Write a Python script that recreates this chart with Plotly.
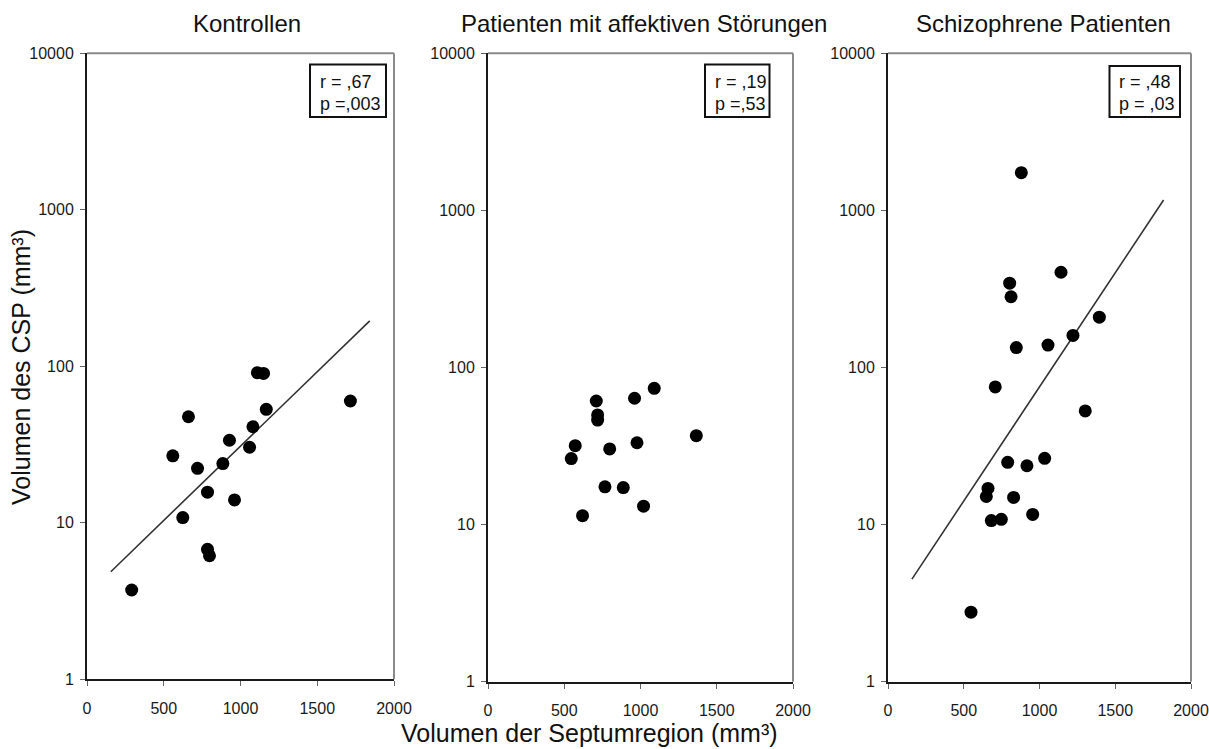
import plotly.graph_objects as go

# ---- data -------------------------------------------------------------
panel_titles = ["Kontrollen", "Patienten mit affektiven Störungen", "Schizophrene Patienten"]

ctrl_sept = [291, 559, 624, 661, 720, 785, 785, 798, 885, 928, 961, 1059, 1081, 1110, 1150, 1168, 1716]
ctrl_csp = [3.72, 26.8, 10.8, 47.6, 22.3, 15.7, 6.77, 6.16, 23.9, 33.7, 14.0, 30.4, 41.1, 91, 90, 53.1, 60]

aff_sept = [546, 572, 620, 710, 719, 719, 767, 798, 887, 961, 977, 1020, 1090, 1366]
aff_csp = [26.3, 31.8, 11.4, 61.2, 49.9, 46.3, 17.4, 30.3, 17.2, 63.7, 33.2, 13.1, 73.7, 36.8]

schizo_sept = [548, 649, 660, 682, 708, 748, 790, 803, 812, 829, 847, 880, 917, 955, 1034, 1056, 1142, 1221, 1302, 1395]
schizo_csp = [2.77, 15.1, 17.0, 10.6, 75.2, 10.8, 24.9, 344, 282, 14.9, 134, 1738, 23.7, 11.6, 26.4, 139, 404, 160, 52.9, 209]

# regression lines (exponential trend, straight on the log axis)
ctrl_trend_x = [155, 1842]
ctrl_trend_y = [4.87, 195]
schizo_trend_x = [158, 1819]
schizo_trend_y = [4.5, 1165]

r_labels = ["r = ,67", "r = ,19", "r = ,48"]
p_labels = ["p =,003", "p =,53", "p = ,03"]

x_ticks = [0, 500, 1000, 1500, 2000]
y_ticks = [1, 10, 100, 1000, 10000]
y_ticktext = ["1", "10", "100", "1000", "10000"]

x_title = "Volumen der Septumregion (mm³)"
y_title = "Volumen des CSP (mm³)"

# ---- layout helpers ----------------------------------------------------
W, H = 1209, 749
FONT = "Liberation Sans, Arial, sans-serif"


def fx(p):
    return p / W


def fy(p):
    return 1 - p / H


# plot rectangles in pixels: (left, right, top, bottom)
boxes = [(87, 394, 53.3, 679.3), (488, 793, 53.3, 681.7), (888, 1191, 53.3, 681.7)]
title_x = [247, 644, 1043]
stat_boxes = [(310, 386, 64.5, 117), (705, 769.5, 64.5, 117), (1109.5, 1180, 66, 117)]
stat_text_x = [318, 713, 1117]

groups = [
    (ctrl_sept, ctrl_csp, ctrl_trend_x, ctrl_trend_y),
    (aff_sept, aff_csp, None, None),
    (schizo_sept, schizo_csp, schizo_trend_x, schizo_trend_y),
]

fig = go.Figure()
annotations = []
shapes = []

for i, (xs, ys, tx, ty) in enumerate(groups):
    n = i + 1
    xa = "x" if n == 1 else f"x{n}"
    ya = "y" if n == 1 else f"y{n}"
    if tx is not None:
        fig.add_trace(go.Scatter(
            x=tx, y=ty, mode="lines", xaxis=xa, yaxis=ya,
            line=dict(color="#333333", width=1.6), hoverinfo="skip",
            showlegend=False,
        ))
    fig.add_trace(go.Scatter(
        x=xs, y=ys, mode="markers", xaxis=xa, yaxis=ya,
        marker=dict(size=13, color="black", line=dict(width=0)),
        showlegend=False,
    ))

    left, right, top, bottom = boxes[i]
    axis_common = dict(
        showgrid=False, zeroline=False, showline=True, automargin=False,
        linecolor="#1a1a1a", linewidth=2,
        ticks="outside", ticklen=5, tickwidth=1, tickcolor="#666666",
        tickfont=dict(family=FONT, size=16, color="#1a1a1a"),
    )
    fig.layout[f"xaxis{n if n > 1 else ''}"] = dict(
        axis_common,
        domain=[fx(left), fx(right)],
        range=[0, 2000], tickvals=x_ticks,
        anchor=ya, ticklabelstandoff=8,
    )
    fig.layout[f"yaxis{n if n > 1 else ''}"] = dict(
        axis_common,
        domain=[fy(bottom), fy(top)],
        type="log", range=[0, 4],
        tickvals=y_ticks, ticktext=y_ticktext,
        anchor=xa, ticklabelstandoff=3,
    )

    # grey frame on the top and right edges
    shapes.append(dict(type="line", xref="paper", yref="paper",
                       x0=fx(left), x1=fx(right), y0=fy(top), y1=fy(top),
                       line=dict(color="#8a8a8a", width=2)))
    shapes.append(dict(type="line", xref="paper", yref="paper",
                       x0=fx(right), x1=fx(right), y0=fy(top), y1=fy(bottom),
                       line=dict(color="#8a8a8a", width=2)))

    # correlation box
    bx0, bx1, by0, by1 = stat_boxes[i]
    shapes.append(dict(type="rect", xref="paper", yref="paper",
                       x0=fx(bx0), x1=fx(bx1), y0=fy(by0), y1=fy(by1),
                       line=dict(color="#111111", width=2), fillcolor="white",
                       layer="above"))
    for txt, yc in ((r_labels[i], 82), (p_labels[i], 103.5)):
        annotations.append(dict(
            text=txt, xref="paper", yref="paper",
            x=fx(stat_text_x[i]), y=fy(yc), xanchor="left", yanchor="middle",
            showarrow=False, font=dict(family=FONT, size=18, color="#111111"),
        ))

    # panel title
    annotations.append(dict(
        text=panel_titles[i], xref="paper", yref="paper",
        x=fx(title_x[i]), y=fy(23), xanchor="center", yanchor="middle",
        showarrow=False, font=dict(family=FONT, size=24, color="#111111"),
    ))

# shared axis titles
annotations.append(dict(
    text=x_title, xref="paper", yref="paper",
    x=fx(589), y=fy(733), xanchor="center", yanchor="middle",
    showarrow=False, font=dict(family=FONT, size=25, color="#111111"),
))
annotations.append(dict(
    text=y_title, xref="paper", yref="paper", textangle=-90,
    x=fx(21), y=fy(367), xanchor="center", yanchor="middle",
    showarrow=False, font=dict(family=FONT, size=25, color="#111111"),
))

fig.update_layout(
    width=W, height=H,
    margin=dict(l=0, r=0, t=0, b=0, pad=0, autoexpand=False),
    paper_bgcolor="white", plot_bgcolor="white",
    annotations=annotations, shapes=shapes,
    showlegend=False,
)

fig.write_html("out.html")
